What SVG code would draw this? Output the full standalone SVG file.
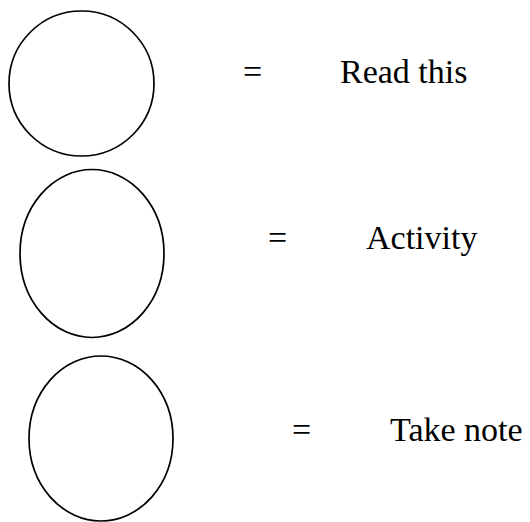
<svg xmlns="http://www.w3.org/2000/svg" width="530" height="522" viewBox="0 0 530 522">
<style>
.sym{fill:none;stroke:#000;stroke-width:1.7}
.t{font-family:"Liberation Serif","Times New Roman",serif;font-size:34px;fill:#000}
</style>
<rect width="530" height="522" fill="#fff"/>
<g id="read">
<ellipse class="sym" cx="81.5" cy="83.5" rx="72.5" ry="72.5"/>
<text class="t" x="243" y="83">=</text>
<text class="t" x="340" y="83">Read this</text>
</g>
<g id="activity">
<ellipse class="sym" cx="92" cy="253.5" rx="72" ry="84"/>
<text class="t" x="268" y="249">=</text>
<text class="t" x="366" y="249">Activity</text>
</g>
<g id="note">
<ellipse class="sym" cx="101" cy="438.5" rx="72" ry="82.5"/>
<text class="t" x="292" y="441">=</text>
<text class="t" x="390" y="441">Take note</text>
</g>
<g id="connectors"/>
</svg>
